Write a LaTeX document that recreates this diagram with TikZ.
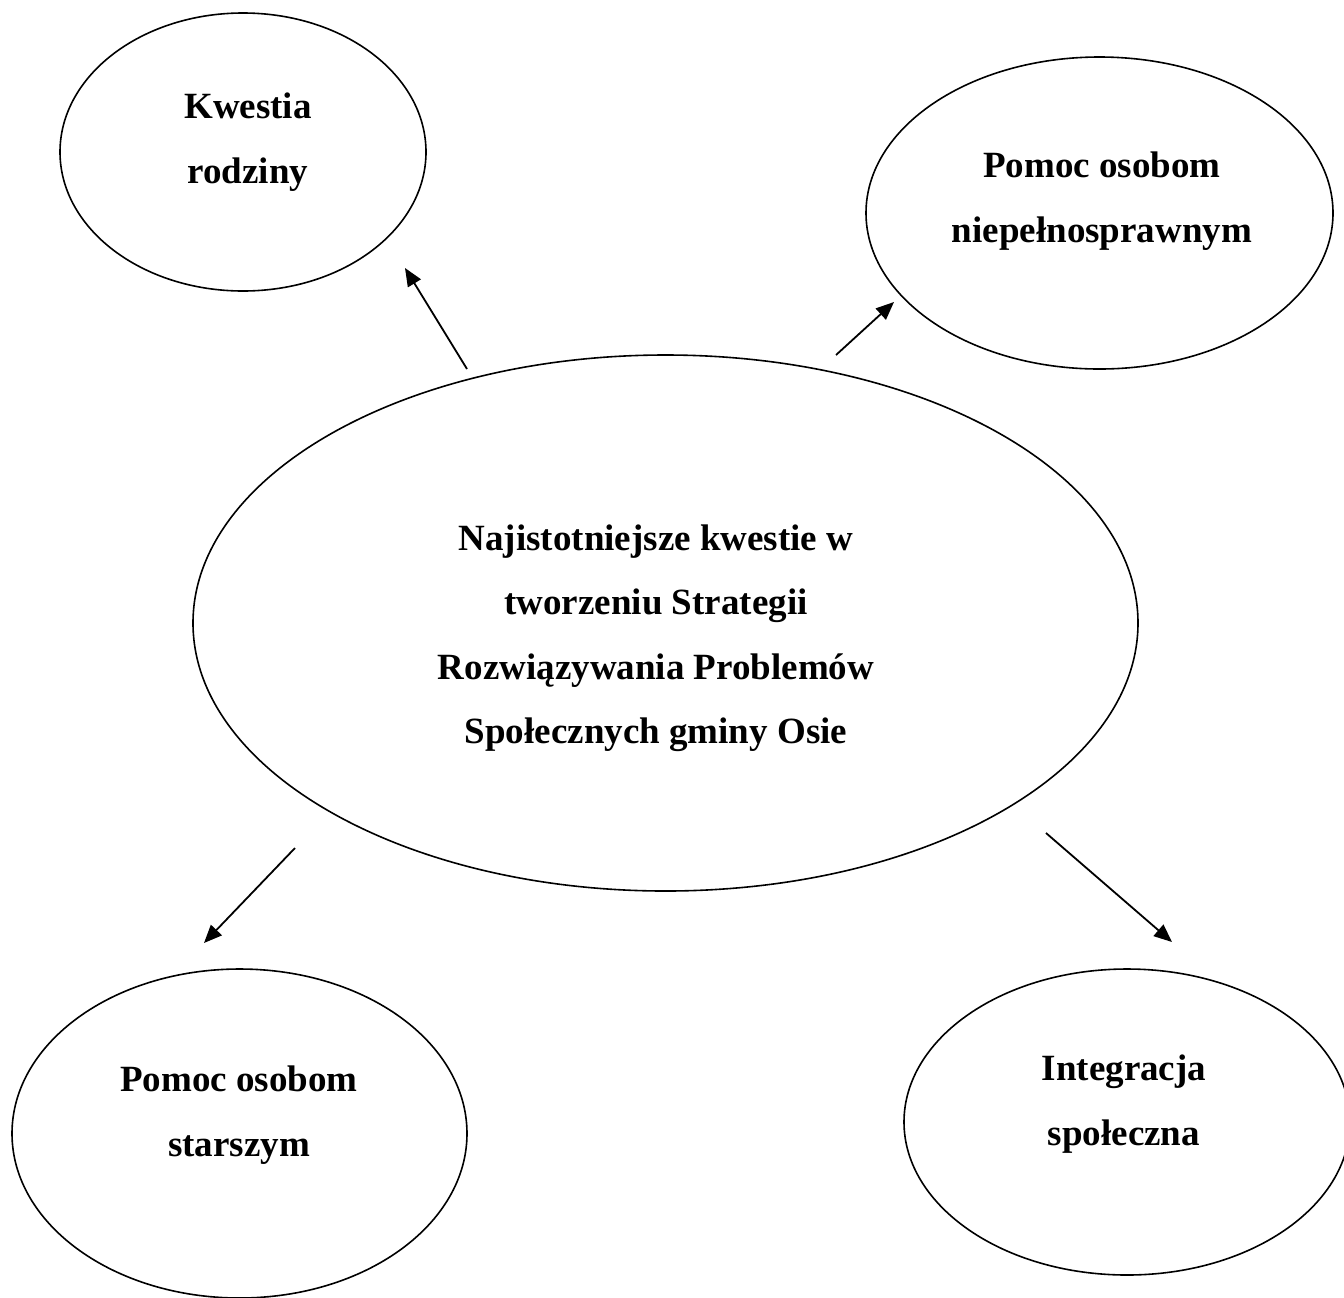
\documentclass[tikz,border=0pt]{standalone}
\usepackage{fontspec}
\setmainfont{Liberation Serif}
\usetikzlibrary{shapes.geometric,arrows.meta}

\tikzset{
   bubble/.style={draw, ellipse, line width=0.8pt, inner sep=0pt},
   caption/.style={align=center, inner sep=0pt, font=\bfseries\fontsize{18.5}{32.25}\selectfont},
   arr/.style={-{Triangle[length=9pt,width=7.5pt]}, line width=0.9pt},
}

\begin{document}
\begin{tikzpicture}[x=0.5pt, y=-0.5pt]
\useasboundingbox (0,0) rectangle (1344,1297);

\node[bubble, minimum width=183pt,   minimum height=139pt] (rodz)   at (243,152)      {};
\node[bubble, minimum width=233.5pt, minimum height=156pt] (niep)   at (1099.5,213)   {};
\node[bubble, minimum width=472.5pt, minimum height=268pt] (cent)   at (665.5,623)    {};
\node[bubble, minimum width=227.5pt, minimum height=164.5pt] (starsz) at (239.5,1133.5) {};
\node[bubble, minimum width=223pt,   minimum height=153pt] (integ)  at (1127,1122)    {};

\node[caption] (rodzT)   at (248,142)  {Kwestia\\rodziny};
\node[caption] (niepT)   at (1102,201) {Pomoc osobom\\niepełnosprawnym};
\node[caption] (centT)   at (656,638)  {Najistotniejsze kwestie w\\tworzeniu Strategii\\Rozwiązywania Problemów\\Społecznych gminy Osie};
\node[caption] (starszT) at (239,1115) {Pomoc osobom\\starszym};
\node[caption] (integT)  at (1124,1104) {Integracja\\społeczna};

\coordinate (s1) at (467,369);  \coordinate (e1) at (405,268);
\coordinate (s2) at (836,355);  \coordinate (e2) at (894,302);
\coordinate (s3) at (295,848);  \coordinate (e3) at (204,943);
\coordinate (s4) at (1046,833); \coordinate (e4) at (1172,942);

\foreach \i in {1,...,4}
   \draw[arr] (s\i) -- (e\i);
\end{tikzpicture}
\end{document}
